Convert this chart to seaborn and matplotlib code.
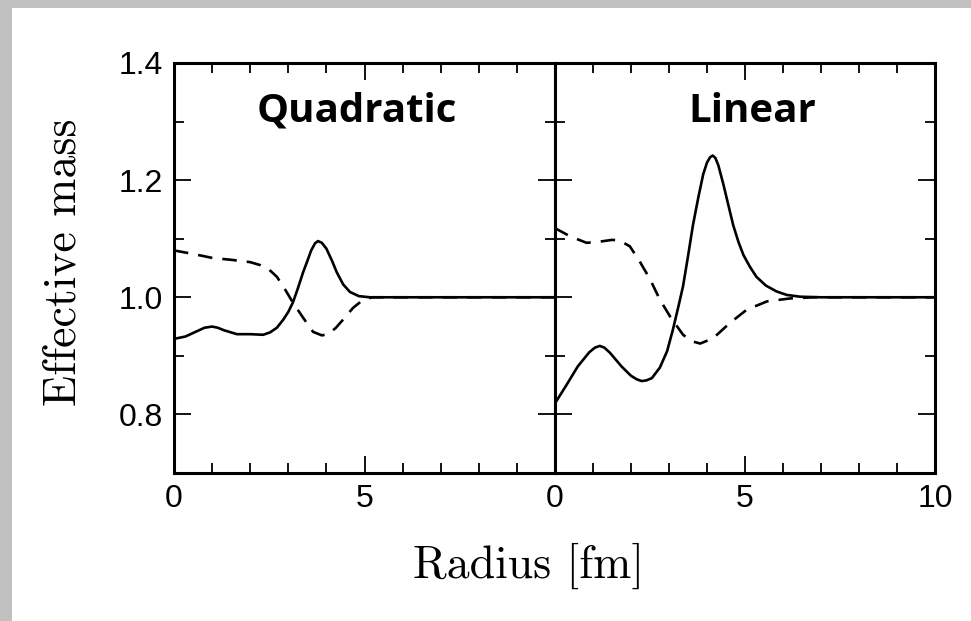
import matplotlib
matplotlib.use("Agg")
import matplotlib.pyplot as plt
import seaborn as sns
import pandas as pd
from matplotlib.patches import Rectangle
from matplotlib.ticker import MultipleLocator

# ---------------- data ----------------
quad_solid_r = [0.0, 0.3, 0.6, 0.8, 1.0, 1.15, 1.3, 1.65, 2.0, 2.34, 2.52, 2.7, 2.87, 3.0, 3.12, 3.25, 3.39,
                3.5, 3.6, 3.7, 3.78, 3.88, 4.0, 4.15, 4.27, 4.44, 4.62, 4.85, 5.14, 6.0, 7.0, 8.0, 9.0, 10.0]
quad_solid_m = [0.929, 0.933, 0.942, 0.948, 0.950, 0.948, 0.944, 0.937, 0.937, 0.936, 0.940, 0.948, 0.962,
                0.975, 0.991, 1.015, 1.043, 1.062, 1.080, 1.092, 1.096, 1.093, 1.083, 1.062, 1.043, 1.022,
                1.009, 1.002, 1.000, 1.000, 1.000, 1.000, 1.000, 1.000]

quad_dash_r = [0.0, 0.5, 1.02, 1.5, 2.0, 2.26, 2.5, 2.7, 2.91, 3.12, 3.39, 3.65, 3.88, 4.05, 4.25, 4.44, 4.7,
               4.95, 5.2, 6.0, 7.0, 8.0, 9.0, 10.0]
quad_dash_m = [1.080, 1.074, 1.067, 1.064, 1.060, 1.055, 1.047, 1.035, 1.014, 0.991, 0.965, 0.941, 0.935, 0.937,
               0.948, 0.962, 0.982, 0.995, 1.000, 1.000, 1.000, 1.000, 1.000, 1.000]

lin_solid_r = [0.0, 0.3, 0.6, 0.9, 1.05, 1.18, 1.3, 1.45, 1.75, 2.0, 2.15, 2.28, 2.4, 2.55, 2.76, 2.95, 3.1,
               3.25, 3.37, 3.5, 3.63, 3.77, 3.9, 4.0, 4.08, 4.15, 4.22, 4.3, 4.43, 4.56, 4.69, 4.83, 4.96,
               5.13, 5.3, 5.55, 5.83, 6.1, 6.45, 7.0, 8.0, 9.0, 10.0]
lin_solid_m = [0.819, 0.850, 0.882, 0.906, 0.914, 0.917, 0.914, 0.905, 0.882, 0.866, 0.860, 0.857, 0.858,
               0.862, 0.880, 0.908, 0.944, 0.985, 1.019, 1.070, 1.123, 1.170, 1.210, 1.230, 1.239, 1.242,
               1.238, 1.225, 1.193, 1.158, 1.123, 1.094, 1.072, 1.052, 1.035, 1.020, 1.010, 1.004, 1.001,
               1.000, 1.000, 1.000, 1.000]

lin_dash_r = [0.0, 0.4, 0.83, 1.18, 1.5, 1.7, 1.97, 2.24, 2.5, 2.76, 3.03, 3.37, 3.6, 3.82, 4.16, 4.6, 5.05, 5.58,
              6.18, 6.8, 7.5, 8.5, 10.0]
lin_dash_m = [1.118, 1.104, 1.093, 1.095, 1.098, 1.097, 1.087, 1.060, 1.031, 0.996, 0.967, 0.936, 0.925, 0.921,
              0.930, 0.956, 0.979, 0.993, 0.998, 1.000, 1.000, 1.000, 1.000]

panel_titles = ["Quadratic", "Linear"]
x_label = "Radius [fm]"
y_label = "Effective mass"

# ---------------- styling ----------------
sns.set_theme(style="ticks")
plt.rcParams["font.family"] = ["Liberation Sans", "DejaVu Sans"]
plt.rcParams["text.color"] = "black"
plt.rcParams["axes.labelcolor"] = "black"
plt.rcParams["xtick.color"] = "black"
plt.rcParams["ytick.color"] = "black"

fig = plt.figure(figsize=(9.71, 6.21), dpi=100)
fig.patch.set_facecolor("white")
# gray frame strips (top and left)
fig.patches.append(Rectangle((0, 1 - 8 / 621), 1, 8 / 621, transform=fig.transFigure,
                             facecolor="#c0c0c0", edgecolor="none", zorder=0))
fig.patches.append(Rectangle((0, 0), 12 / 971, 1, transform=fig.transFigure,
                             facecolor="#c0c0c0", edgecolor="none", zorder=0))

ax1 = fig.add_axes([174 / 971, 1 - 473 / 621, 381 / 971, 410 / 621])
ax2 = fig.add_axes([555 / 971, 1 - 473 / 621, 380 / 971, 410 / 621])

panels = [
    (ax1, quad_solid_r, quad_solid_m, quad_dash_r, quad_dash_m, panel_titles[0], 4.8),
    (ax2, lin_solid_r, lin_solid_m, lin_dash_r, lin_dash_m, panel_titles[1], 5.18),
]

for ax, sr, sm, dr, dm, title, tx in panels:
    d_solid = pd.DataFrame({"r": sr, "m": sm})
    d_dash = pd.DataFrame({"r": dr, "m": dm})
    sns.lineplot(data=d_solid, x="r", y="m", ax=ax, color="black", linewidth=1.9, sort=False)
    sns.lineplot(data=d_dash, x="r", y="m", ax=ax, color="black", linewidth=1.9, sort=False,
                 linestyle=(0, (5.5, 3.8)))
    ax.set_xlim(0, 10)
    ax.set_ylim(0.7, 1.4)
    ax.set_xlabel("")
    ax.set_ylabel("")
    for sp in ax.spines.values():
        sp.set_visible(True)
        sp.set_linewidth(2.2)
        sp.set_color("black")
    ax.xaxis.set_major_locator(MultipleLocator(5))
    ax.xaxis.set_minor_locator(MultipleLocator(1))
    ax.yaxis.set_major_locator(MultipleLocator(0.2))
    ax.yaxis.set_minor_locator(MultipleLocator(0.1))
    ax.tick_params(which="both", direction="in", top=True, right=True, left=True, bottom=True,
                   color="black", width=1.3)
    ax.tick_params(which="major", length=12, labelsize=23, pad=8)
    ax.tick_params(which="minor", length=7)
    ax.text(tx, 1.318, title, ha="center", va="center", fontsize=29, fontweight="bold",
            family=["Open Sans", "DejaVu Sans"], color="black")
    ax.set_facecolor("white")

ax1.set_xticks([0, 5, 10])
ax1.set_xticklabels(["0", "5", ""])
ax1.set_yticks([0.8, 1.0, 1.2, 1.4])
ax1.set_yticklabels(["0.8", "1.0", "1.2", "1.4"])
ax2.set_xticks([0, 5, 10])
ax2.set_xticklabels(["0", "5", "10"])
ax2.tick_params(axis="y", labelleft=False)

fig.text(529 / 971, 1 - 566 / 621, x_label, ha="center", va="center", fontsize=33, family="cmr10",
         color="black")
fig.text(64 / 971, 1 - 262 / 621, y_label, ha="center", va="center", rotation=90, fontsize=33,
         family="cmr10", color="black")

fig.savefig("out.png", dpi=100, facecolor="white")
